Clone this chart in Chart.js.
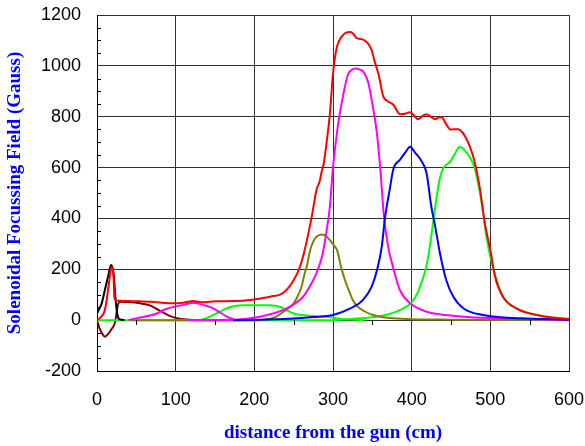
<!DOCTYPE html>
<html>
<head>
<meta charset="utf-8">
<script src="https://cdn.jsdelivr.net/npm/chart.js@4"></script>
<style>
  body { margin: 0; background: #fff; }
  canvas { display: block; }
</style>
</head>
<body>
<canvas id="field-chart" width="585" height="446"></canvas>
<script>
// axis ranges / ticks
const xTicks = [0, 100, 200, 300, 400, 500, 600];
const yTicks = [-200, 0, 200, 400, 600, 800, 1000, 1200];

// total field (red)
const totalX = [0, 5, 10, 14, 17.5, 18.7, 21, 22, 24, 29, 40, 55, 70, 82, 101, 112, 122, 135, 150, 173, 195, 220, 237, 250, 258, 264, 273, 279, 283, 286, 288, 292, 296, 300, 305, 311, 316, 322, 326, 330, 339, 349, 353, 358, 364, 370, 377, 385, 392, 398, 403, 408, 414, 419, 424, 430, 434, 438, 444, 449, 459, 464, 468, 474, 480, 487, 493, 500, 506, 516, 533, 559, 580, 600];
const totalY = [0, 12, 39, 118, 197, 208, 171, 92, 79, 76, 75, 74, 72, 68, 66, 70, 75, 70, 74, 75, 79, 92, 108, 157, 210, 276, 407, 512, 545, 590, 612, 702, 810, 970, 1075, 1115, 1130, 1133, 1125, 1109, 1102, 1063, 1017, 965, 879, 860, 846, 810, 812, 818, 805, 790, 803, 810, 800, 790, 797, 798, 770, 750, 751, 740, 722, 682, 623, 512, 381, 276, 171, 92, 46, 20, 10, 5];

// gun coil spike (black)
const gunX = [0, 3, 6, 10, 14, 18, 21, 23, 25, 27, 29, 35];
const gunY = [26, 45, 66, 118, 171, 217, 184, 105, 39, 10, 3, 0];

// bucking coil (maroon)
const buckX = [0, 3, 7, 10, 14, 19, 23, 25, 27, 30, 45, 55, 67, 80, 93, 103, 118, 150];
const buckY = [0, -30, -55, -65, -55, -33, -8, 30, 65, 72, 70, 66, 58, 37, 16, 7, 2, 0];

// small solenoids
const sol1X = [40, 50, 76, 86, 97, 110, 122, 127, 135, 145, 155, 165, 175];
const sol1Y = [0, 7, 26, 42, 52, 60, 68, 66, 60, 50, 33, 14, 2];
const sol2X = [130, 141, 156, 169, 186, 203, 220, 233, 241, 250, 275, 292, 310, 340];
const sol2Y = [0, 10, 33, 52, 59, 59, 59, 52, 39, 26, 16, 13, 5, 0];

// olive solenoid
const sol3X = [45, 200, 225, 237, 250, 256, 260, 264, 267, 271, 275, 279, 286, 292, 296, 302, 305, 311, 316, 320, 325, 330, 340, 351, 372, 400, 450, 600];
const sol3Y = [0, 0, 10, 33, 66, 100, 131, 184, 215, 276, 310, 328, 337, 328, 315, 290, 276, 200, 150, 118, 80, 57, 35, 20, 8, 4, 2, 0];

// magenta solenoid
const sol4X = [114, 175, 207, 241, 262, 270, 277, 286, 292, 296, 300, 306, 313, 319, 324, 328, 334, 339, 345, 351, 356, 360, 365, 370, 377, 385, 398, 419, 449, 480, 530, 600];
const sol4Y = [1, 2, 13, 46, 92, 130, 171, 249, 354, 446, 600, 760, 886, 965, 985, 990, 985, 975, 932, 833, 730, 600, 400, 290, 200, 118, 66, 33, 18, 10, 5, 2];

// blue solenoid
const sol5X = [173, 207, 250, 275, 300, 322, 338, 349, 356, 362, 366, 372, 377, 385, 392, 398, 404, 413, 419, 425, 430, 436, 444, 453, 466, 491, 538, 600];
const sol5Y = [0, 2, 6, 12, 20, 46, 79, 131, 197, 289, 400, 512, 597, 630, 660, 682, 660, 623, 577, 446, 367, 262, 157, 92, 46, 20, 7, 2];

// green solenoid
const sol6X = [0, 300, 309, 340, 364, 385, 400, 408, 412, 416, 420, 424, 428, 432, 436, 440, 449, 457, 461, 468, 474, 480, 485, 491, 495, 500, 508, 516, 533, 559, 580, 600];
const sol6Y = [0, 0, 2, 8, 18, 39, 70, 110, 145, 180, 230, 310, 400, 490, 560, 597, 623, 665, 682, 665, 640, 600, 530, 420, 330, 249, 157, 92, 46, 20, 8, 3];

function pts(xs, ys) {
    return xs.map((x, i) => ({ x: x, y: ys[i] }));
}

function curve(xs, ys, color, order) {
    return {
        data: pts(xs, ys),
        borderColor: color,
        borderWidth: 2,
        pointRadius: 0,
        fill: false,
        cubicInterpolationMode: 'monotone',
        order: order
    };
}

// little inner ticks every 50 units
const minorTicks = {
    id: 'minorTicks',
    afterDatasetsDraw(chart) {
        const { ctx, scales: { x, y } } = chart;
        ctx.save();
        ctx.strokeStyle = '#000';
        ctx.lineWidth = 1;
        ctx.beginPath();
        for (let v = -150; v < 1200; v += 50) {
            if (v % 200 === 0) continue;
            const py = Math.round(y.getPixelForValue(v)) + 0.5;
            ctx.moveTo(x.left, py);
            ctx.lineTo(x.left + 4, py);
        }
        const y0 = Math.round(y.getPixelForValue(0));
        for (let v = 50; v < 600; v += 100) {
            const px = Math.round(x.getPixelForValue(v)) + 0.5;
            ctx.moveTo(px, y0);
            ctx.lineTo(px, y0 + 5);
        }
        ctx.stroke();
        ctx.restore();
    }
};

function noPad(s) {
    s.paddingTop = 0;
    s.paddingBottom = 0;
    s.paddingLeft = 0;
    s.paddingRight = 0;
}

const titleFont = { family: '"Liberation Serif", "Times New Roman", serif', size: 19, weight: 'bold' };
const tickFont = { family: '"Liberation Sans", Arial, sans-serif', size: 18 };

new Chart(document.getElementById('field-chart'), {
    type: 'line',
    data: {
        datasets: [
            curve(totalX, totalY, '#ff0000', 1),
            curve(gunX, gunY, '#000000', 2),
            curve(sol5X, sol5Y, '#0000ff', 3),
            curve(sol4X, sol4Y, '#ff00ff', 4),
            curve(sol1X, sol1Y, '#ff00ff', 5),
            curve(sol3X, sol3Y, '#808000', 6),
            curve(sol2X, sol2Y, '#00ff00', 7),
            curve(sol6X, sol6Y, '#00ff00', 8),
            curve(buckX, buckY, '#800000', 9)
        ]
    },
    options: {
        responsive: false,
        animation: false,
        layout: { padding: { left: 0, right: 16, top: 15, bottom: 0 } },
        plugins: {
            legend: { display: false },
            tooltip: { enabled: false }
        },
        scales: {
            x: {
                type: 'linear',
                min: xTicks[0],
                max: xTicks[xTicks.length - 1],
                afterBuildTicks: (s) => { s.ticks = xTicks.map((v) => ({ value: v })); },
                afterFit: (s) => { s.height = 75; noPad(s); },
                ticks: { color: '#000', font: tickFont, padding: 18, maxRotation: 0, callback: (v) => String(v) },
                grid: { color: '#303030', lineWidth: 1, drawTicks: false },
                border: { color: '#000', width: 1 },
                title: {
                    display: true,
                    text: 'distance from the gun (cm)',
                    color: '#0000ff',
                    font: titleFont,
                    padding: { top: 0, bottom: 2 }
                }
            },
            y: {
                type: 'linear',
                min: yTicks[0],
                max: yTicks[yTicks.length - 1],
                afterBuildTicks: (s) => { s.ticks = yTicks.map((v) => ({ value: v })); },
                afterFit: (s) => { s.width = 97; noPad(s); },
                ticks: { color: '#000', font: tickFont, padding: 16, callback: (v) => String(v) },
                grid: { color: '#303030', lineWidth: 1, drawTicks: false },
                border: { color: '#000', width: 1 },
                title: {
                    display: true,
                    text: 'Solenoidal Focussing Field (Gauss)',
                    color: '#0000ff',
                    font: titleFont,
                    padding: { top: 4, bottom: 0 }
                }
            }
        }
    },
    plugins: [minorTicks]
});
</script>
</body>
</html>
